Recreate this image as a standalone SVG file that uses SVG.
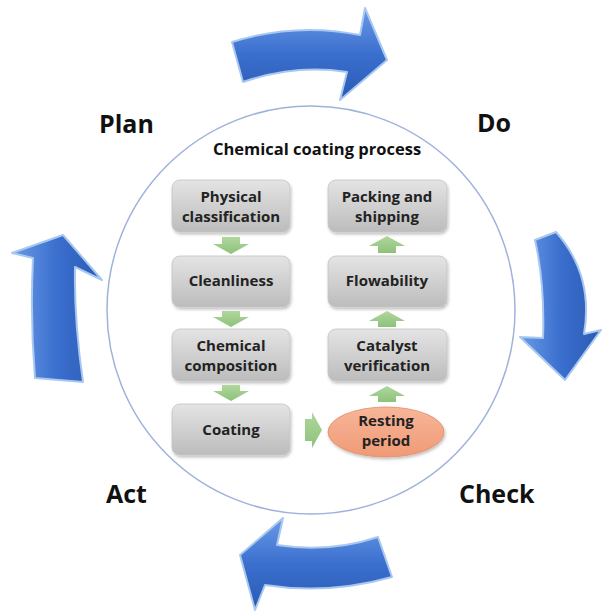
<svg xmlns="http://www.w3.org/2000/svg" width="602" height="612" viewBox="0 0 602 612">
  <defs>
    <linearGradient id="boxFill" x1="0" y1="0" x2="0" y2="1">
      <stop offset="0" stop-color="#e4e4e4"/>
      <stop offset="1" stop-color="#bcbcbc"/>
    </linearGradient>
    <linearGradient id="restFill" x1="0" y1="0" x2="0" y2="1">
      <stop offset="0" stop-color="#f7b699"/>
      <stop offset="1" stop-color="#f09a76"/>
    </linearGradient>
    <linearGradient id="greenFill" x1="0" y1="0" x2="0" y2="1">
      <stop offset="0" stop-color="#b0d79d"/>
      <stop offset="1" stop-color="#8dc27a"/>
    </linearGradient>
    <linearGradient id="blueH" x1="0" y1="0" x2="0" y2="1">
      <stop offset="0" stop-color="#6a9ae6"/>
      <stop offset="0.5" stop-color="#3b6fce"/>
      <stop offset="1" stop-color="#2a5ab3"/>
    </linearGradient>
    <linearGradient id="blueV" x1="0" y1="0" x2="1" y2="0">
      <stop offset="0" stop-color="#6a9ae6"/>
      <stop offset="0.5" stop-color="#3b6fce"/>
      <stop offset="1" stop-color="#2a5ab3"/>
    </linearGradient>
    <filter id="shadow" x="-10%" y="-10%" width="125%" height="135%">
      <feDropShadow dx="1" dy="2" stdDeviation="1.5" flood-color="#000" flood-opacity="0.25"/>
    </filter>
  </defs>
  <style>
    .phase { font-family: "Open Sans", "Liberation Sans", sans-serif; font-weight: bold; font-size: 25px; fill: #111; }
    .title { font-family: "Open Sans", "Liberation Sans", sans-serif; font-weight: bold; font-size: 16.5px; fill: #111; text-anchor: middle; }
    .label { font-family: "Open Sans", "Liberation Sans", sans-serif; font-weight: bold; font-size: 15px; fill: #222; text-anchor: middle; }
    .box { fill: url(#boxFill); stroke: #c4c4c4; stroke-width: 0.8; filter: url(#shadow); }
    .step { fill: url(#greenFill); }
    .cycle { stroke: #a8c8f0; stroke-width: 2; stroke-linejoin: round; }
  </style>

  <rect width="602" height="612" fill="#ffffff"/>

  <!-- PDCA cycle arrows -->
  <g id="cycle-arrows">
    <path class="cycle" fill="url(#blueH)" d="M232,42 Q296,22 360,35 L365,8 L387,60 L340,100 L347,72 Q295,64 243,82 Z"/>
    <path class="cycle" fill="url(#blueV)" d="M535,240 L556,232 Q594,275 584,334 L601,330 L565,380 L520,337 L543,338 Q545,285 535,240 Z"/>
    <path class="cycle" fill="url(#blueH)" d="M378,537 L392,577 Q328,595 265,585 L255,610 L240,555 L283,518 L277,545 Q330,553 378,537 Z"/>
    <path class="cycle" fill="url(#blueV)" d="M33,258 L12,253 L63,235 L102,280 L75,267 Q74,320 83,382 L35,378 Q30,318 33,258 Z"/>
  </g>

  <!-- phase labels -->
  <g id="phase-labels">
    <text class="phase" x="99" y="133">Plan</text>
    <text class="phase" x="477" y="132">Do</text>
    <text class="phase" x="459" y="503">Check</text>
    <text class="phase" x="106" y="503">Act</text>
  </g>

  <!-- process boundary -->
  <circle id="process-circle" cx="311" cy="310" r="204" fill="none" stroke="#9fb2db" stroke-width="1.5"/>
  <text class="title" x="317" y="155">Chemical coating process</text>

  <!-- process steps -->
  <g id="physical-classification">
    <rect class="box" x="172" y="180" width="118" height="52" rx="8"/>
    <text class="label" x="231" y="202">Physical</text>
    <text class="label" x="231" y="222">classification</text>
  </g>
  <g id="cleanliness">
    <rect class="box" x="172" y="256" width="118" height="51" rx="8"/>
    <text class="label" x="231" y="286">Cleanliness</text>
  </g>
  <g id="chemical-composition">
    <rect class="box" x="172" y="329" width="118" height="52" rx="8"/>
    <text class="label" x="231" y="351">Chemical</text>
    <text class="label" x="231" y="371">composition</text>
  </g>
  <g id="coating">
    <rect class="box" x="172" y="404" width="118" height="51" rx="8"/>
    <text class="label" x="231" y="435">Coating</text>
  </g>
  <g id="resting-period">
    <ellipse cx="386" cy="432" rx="58" ry="25" fill="url(#restFill)" stroke="#e58a66" stroke-width="0.8" filter="url(#shadow)"/>
    <text class="label" x="386" y="426">Resting</text>
    <text class="label" x="386" y="446">period</text>
  </g>
  <g id="catalyst-verification">
    <rect class="box" x="328" y="329" width="119" height="52" rx="8"/>
    <text class="label" x="387" y="351">Catalyst</text>
    <text class="label" x="387" y="371">verification</text>
  </g>
  <g id="flowability">
    <rect class="box" x="328" y="256" width="119" height="51" rx="8"/>
    <text class="label" x="387" y="286">Flowability</text>
  </g>
  <g id="packing-and-shipping">
    <rect class="box" x="328" y="180" width="119" height="52" rx="8"/>
    <text class="label" x="387" y="202">Packing and</text>
    <text class="label" x="387" y="222">shipping</text>
  </g>

  <!-- step connectors -->
  <g id="connectors">
    <path class="step" d="M222,237 H240 V244 H249 L231,254 L213,244 H222 Z"/>
    <path class="step" d="M222,311 H240 V317 H249 L231,327 L213,317 H222 Z"/>
    <path class="step" d="M222,385 H240 V391 H249 L231,401 L213,391 H222 Z"/>
    <path class="step" d="M305,419 H312 V412 L322,430 L312,448 V441 H305 Z"/>
    <path class="step" d="M378,402 V396 H369 L387,386 L405,396 H396 V402 Z"/>
    <path class="step" d="M378,327 V321 H369 L387,311 L405,321 H396 V327 Z"/>
    <path class="step" d="M378,253 V246 H369 L387,236 L405,246 H396 V253 Z"/>
  </g>
</svg>
